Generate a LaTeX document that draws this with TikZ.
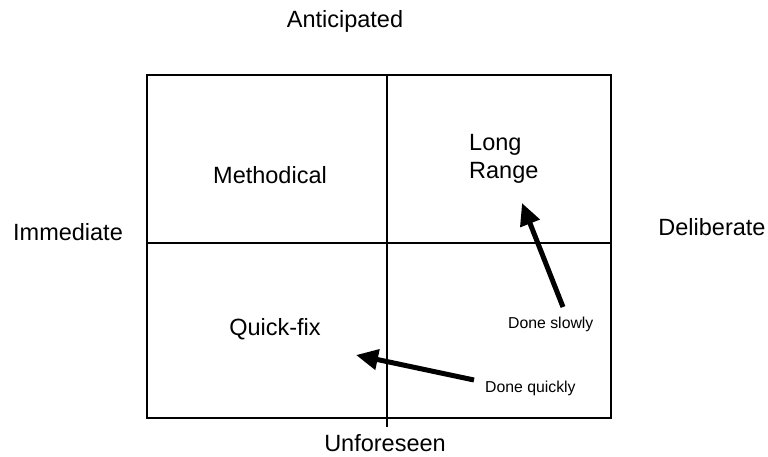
\documentclass[tikz,border=0pt]{standalone}
\usepackage{fontspec}
\setmainfont{Liberation Sans}
\usetikzlibrary{arrows.meta}
\begin{document}
\begin{tikzpicture}[x=1pt, y=-1pt,
            big/.style={font=\fontsize{23.5}{28}\selectfont, inner sep=0pt},
            small/.style={font=\fontsize{15.8}{19}\selectfont, inner sep=0pt},
            move/.style={line width=5pt, -{Triangle[length=22pt, width=20pt]}}]
            \useasboundingbox (0, 0) rectangle (768, 456);
            \draw[line width=2pt] (147, 75) rectangle (611, 418);
            \draw[line width=2pt] (387, 75) -- (387, 427);
            \draw[line width=2pt] (147, 243) -- (611, 243);
            \node[big, anchor=base] (ant) at (345, 27) {Anticipated};
            \node[big, anchor=base] (imm) at (68, 240) {Immediate};
            \node[big, anchor=base] (del) at (712, 235) {Deliberate};
            \node[big, anchor=base] (unf) at (385, 451) {Unforeseen};
            \node[big, anchor=base] (meth) at (270, 183) {Methodical};
            \node[big, anchor=north west, align=left] (long) at (469, 134) {Long\\Range};
            \node[big, anchor=base] (quick) at (275, 335) {Quick-fix};
            \node[small, anchor=base west] (slow) at (508, 328) {Done slowly};
            \node[small, anchor=base west] (fast) at (485, 392) {Done quickly};
            \coordinate (slowA) at (563, 307);
            \coordinate (slowB) at (522, 203);
            \coordinate (fastA) at (474, 380);
            \coordinate (fastB) at (356, 355);
            \draw[move] (slowA) -- (slowB);
            \draw[move] (fastA) -- (fastB);
        \end{tikzpicture}
\end{document}
